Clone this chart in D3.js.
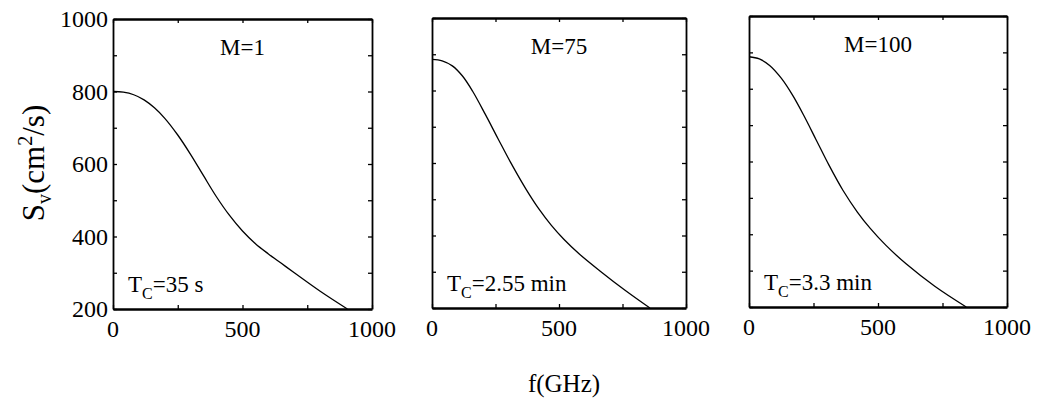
<!DOCTYPE html>
<html>
<head>
<meta charset="utf-8">
<script src="https://cdn.jsdelivr.net/npm/d3@7"></script>
<style>
  html, body { margin: 0; padding: 0; background: #fff; }
  svg { display: block; }
</style>
</head>
<body>
<svg id="chart" width="1047" height="404" font-family="'Liberation Serif', 'Times New Roman', serif"></svg>
<script>
// Diffusion coefficient S_v versus frequency f for three values of M
const panelNames = ["M=1", "M=75", "M=100"];
const tcMain = ["35 s", "2.55 min", "3.3 min"];

// curve samples: frequency (GHz) and S_v (cm^2/s)
const freqM1 = [0, 40, 80, 120, 160, 200, 250, 300, 350, 400, 450, 500, 550, 600, 650, 700, 800, 905];
const svM1   = [800, 798, 791, 777, 755, 726, 680, 626, 567, 509, 458, 415, 380, 352, 326, 300, 249, 200];

const freqM75 = [0, 40, 80, 120, 160, 210, 260, 310, 370, 420, 470, 520, 580, 660, 760, 858];
const svM75   = [886, 882, 868, 840, 798, 734, 667, 601, 528, 474, 428, 389, 349, 303, 249, 200];

const freqM100 = [0, 40, 80, 125, 170, 215, 260, 310, 364, 420, 470, 530, 610, 720, 842];
const svM100   = [888, 882, 864, 829, 781, 723, 660, 590, 521, 461, 416, 370, 318, 257, 200];

const xTicks = [0, 250, 500, 750, 1000];
const xTickLabels = [0, 500, 1000];
const yTicks = [200, 300, 400, 500, 600, 700, 800, 900, 1000];
const yTickLabels = [200, 400, 600, 800, 1000];

const series = [
  { freq: freqM1, sv: svM1 },
  { freq: freqM75, sv: svM75 },
  { freq: freqM100, sv: svM100 }
];

// panel frames in page pixels
const frames = [
  { left: 113, right: 372, top: 19, bottom: 309 },
  { left: 432, right: 686, top: 18, bottom: 308 },
  { left: 749, right: 1007, top: 16, bottom: 307 }
];

const svg = d3.select("#chart");
svg.append("rect").attr("width", 1047).attr("height", 404).attr("fill", "#fff");

frames.forEach((fr, i) => {
  const x = d3.scaleLinear().domain([0, 1000]).range([fr.left, fr.right]);
  const y = d3.scaleLinear().domain([200, 1000]).range([fr.bottom, fr.top]);
  const g = svg.append("g");

  // inward ticks on all four sides
  const tickLen = 4;
  const bottomAx = g.append("g").attr("transform", `translate(0,${fr.bottom})`)
    .call(d3.axisBottom(x).tickValues(xTicks).tickSizeInner(-tickLen).tickSizeOuter(0).tickFormat(""));
  const topAx = g.append("g").attr("transform", `translate(0,${fr.top})`)
    .call(d3.axisTop(x).tickValues(xTicks).tickSizeInner(-tickLen).tickSizeOuter(0).tickFormat(""));
  const leftAx = g.append("g").attr("transform", `translate(${fr.left},0)`)
    .call(d3.axisLeft(y).tickValues(yTicks).tickSizeInner(-tickLen).tickSizeOuter(0).tickFormat(""));
  const rightAx = g.append("g").attr("transform", `translate(${fr.right},0)`)
    .call(d3.axisRight(y).tickValues(yTicks).tickSizeInner(-tickLen).tickSizeOuter(0).tickFormat(""));

  [bottomAx, topAx].forEach(a => a.select(".domain").attr("stroke", "#000").attr("stroke-width", 2.4));
  [leftAx, rightAx].forEach(a => a.select(".domain").attr("stroke", "#000").attr("stroke-width", 1.8));
  [bottomAx, topAx, leftAx, rightAx].forEach(a => a.selectAll(".tick line").attr("stroke", "#000").attr("stroke-width", 1.3));

  // x tick labels
  g.selectAll(".xl").data(xTickLabels).enter().append("text")
    .attr("x", d => x(d)).attr("y", fr.bottom + 28)
    .attr("text-anchor", "middle").attr("font-size", 24)
    .text(d => d);

  // y tick labels on the first panel only
  if (i === 0) {
    g.selectAll(".yl").data(yTickLabels).enter().append("text")
      .attr("x", fr.left - 5).attr("y", d => y(d) + 8)
      .attr("text-anchor", "end").attr("font-size", 24)
      .text(d => d);
  }

  // curve
  const s = series[i];
  const pts = s.freq.map((f, k) => [f, s.sv[k]]);
  const line = d3.line().x(d => x(d[0])).y(d => y(d[1])).curve(d3.curveCatmullRom.alpha(0.5));
  g.append("path").datum(pts).attr("d", line)
    .attr("fill", "none").attr("stroke", "#000").attr("stroke-width", 1.3);

  // panel title
  g.append("text")
    .attr("x", (fr.left + fr.right) / 2).attr("y", fr.top + 36)
    .attr("text-anchor", "middle").attr("font-size", 23)
    .text(panelNames[i]);

  // correlation time
  const tc = g.append("text")
    .attr("x", fr.left + 15).attr("y", fr.bottom - 17)
    .attr("font-size", 23);
  tc.append("tspan").text("T");
  tc.append("tspan").attr("font-size", 16).attr("dy", 7).text("C");
  tc.append("tspan").attr("dy", -7).text("=" + tcMain[i]);
});

// y axis title
const yt = svg.append("text")
  .attr("transform", "translate(44,163) rotate(-90)")
  .attr("text-anchor", "middle").attr("font-size", 31);
yt.append("tspan").text("S");
yt.append("tspan").attr("font-size", 20).attr("dy", 7).text("v");
yt.append("tspan").attr("dy", -7).text("(cm");
yt.append("tspan").attr("font-size", 20).attr("dy", -12).text("2");
yt.append("tspan").attr("dy", 12).text("/s)");

// x axis title
svg.append("text")
  .attr("x", 564).attr("y", 392)
  .attr("text-anchor", "middle").attr("font-size", 25)
  .text("f(GHz)");
</script>
</body>
</html>
